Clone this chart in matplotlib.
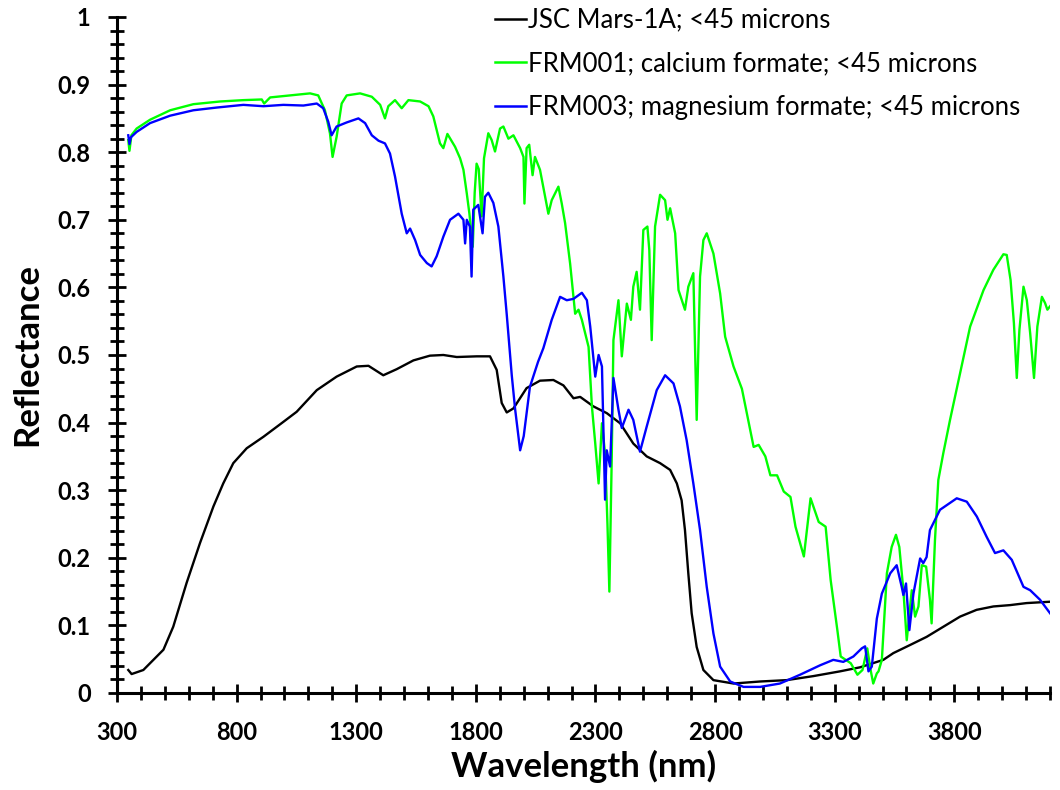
import matplotlib
matplotlib.use("Agg")
import matplotlib.pyplot as plt
from matplotlib.ticker import FixedLocator

plt.rcParams['font.family'] = ['Lato', 'DejaVu Sans']

# ---------------- data ----------------
jsc_wl = [347, 361, 410, 452, 494, 535, 591, 647, 703, 744, 786, 842, 912, 995, 1051,
          1135, 1218, 1302, 1351, 1413, 1469, 1539, 1608, 1664, 1720, 1804, 1859, 1887,
          1908, 1929, 1957, 2012, 2068, 2124, 2166, 2208, 2236, 2291, 2347, 2403, 2458,
          2514, 2570, 2612, 2640, 2660, 2674, 2688, 2702, 2723, 2751, 2793, 2877, 2988,
          3099, 3211, 3322, 3406, 3503, 3545, 3615, 3684, 3754, 3824, 3893, 3963, 4033,
          4102, 4200]
jsc_r = [0.034, 0.028, 0.034, 0.049, 0.064, 0.098, 0.163, 0.222, 0.276, 0.310, 0.340,
         0.362, 0.379, 0.401, 0.416, 0.448, 0.468, 0.483, 0.484, 0.470, 0.479, 0.492,
         0.499, 0.500, 0.497, 0.498, 0.498, 0.478, 0.429, 0.415, 0.421, 0.451, 0.462,
         0.463, 0.455, 0.436, 0.438, 0.424, 0.414, 0.399, 0.369, 0.350, 0.340, 0.330,
         0.310, 0.285, 0.241, 0.177, 0.118, 0.068, 0.034, 0.019, 0.014, 0.017, 0.019,
         0.025, 0.032, 0.038, 0.049, 0.059, 0.071, 0.083, 0.098, 0.113, 0.123, 0.128,
         0.130, 0.133, 0.135]

frm001_wl = [347, 352, 360, 382, 438, 522, 619, 731, 828, 905, 915, 940, 1023, 1107,
             1141, 1169, 1190, 1201, 1218, 1239, 1260, 1316, 1365, 1400, 1420, 1434,
             1462, 1490, 1518, 1567, 1602, 1622, 1650, 1664, 1681, 1713, 1734, 1748,
             1762, 1773, 1787, 1795, 1803, 1812, 1824, 1834, 1852, 1866, 1880, 1901,
             1915, 1936, 1957, 1985, 1999, 2003, 2012, 2023, 2037, 2047, 2068, 2103,
             2117, 2145, 2159, 2173, 2194, 2215, 2229, 2243, 2257, 2271, 2285, 2299,
             2313, 2327, 2340, 2350, 2358, 2368, 2375, 2396, 2410, 2431, 2448, 2458,
             2472, 2486, 2500, 2517, 2525, 2535, 2549, 2570, 2591, 2601, 2612, 2633,
             2647, 2674, 2688, 2709, 2723, 2737, 2751, 2765, 2793, 2821, 2842, 2877,
             2912, 2961, 2982, 3010, 3031, 3059, 3087, 3115, 3136, 3171, 3199, 3233,
             3262, 3283, 3311, 3325, 3367, 3395, 3416, 3436, 3450, 3461, 3476, 3483,
             3497, 3518, 3538, 3556, 3570, 3587, 3601, 3622, 3636, 3650, 3664, 3682,
             3698, 3705, 3719, 3733, 3754, 3782, 3824, 3866, 3922, 3963, 4005, 4019,
             4035, 4049, 4061, 4072, 4089, 4103, 4117, 4133, 4147, 4166, 4179, 4189,
             4200]
frm001_r = [0.818, 0.802, 0.825, 0.835, 0.848, 0.862, 0.871, 0.875, 0.877, 0.878, 0.872,
            0.881, 0.884, 0.887, 0.884, 0.862, 0.828, 0.793, 0.823, 0.872, 0.884, 0.887,
            0.882, 0.870, 0.850, 0.868, 0.877, 0.865, 0.877, 0.875, 0.868, 0.853, 0.813,
            0.806, 0.827, 0.808, 0.791, 0.774, 0.739, 0.709, 0.660, 0.740, 0.783, 0.775,
            0.705, 0.791, 0.828, 0.818, 0.801, 0.835, 0.838, 0.820, 0.825, 0.806, 0.793,
            0.724, 0.806, 0.811, 0.766, 0.793, 0.774, 0.709, 0.729, 0.749, 0.724, 0.695,
            0.635, 0.561, 0.567, 0.552, 0.532, 0.512, 0.424, 0.369, 0.310, 0.399, 0.354,
            0.250, 0.150, 0.350, 0.522, 0.581, 0.498, 0.576, 0.552, 0.601, 0.623, 0.567,
            0.685, 0.690, 0.655, 0.522, 0.690, 0.737, 0.729, 0.700, 0.717, 0.680, 0.596,
            0.567, 0.601, 0.621, 0.404, 0.616, 0.670, 0.680, 0.650, 0.591, 0.527, 0.483,
            0.450, 0.364, 0.367, 0.350, 0.322, 0.322, 0.298, 0.290, 0.246, 0.202, 0.288,
            0.253, 0.246, 0.167, 0.093, 0.054, 0.044, 0.027, 0.034, 0.066, 0.034, 0.014,
            0.029, 0.032, 0.049, 0.177, 0.216, 0.234, 0.216, 0.152, 0.078, 0.152, 0.113,
            0.128, 0.189, 0.187, 0.138, 0.103, 0.226, 0.315, 0.355, 0.404, 0.473, 0.542,
            0.596, 0.626, 0.649, 0.648, 0.611, 0.547, 0.466, 0.537, 0.601, 0.581, 0.532,
            0.466, 0.542, 0.586, 0.577, 0.567, 0.572]

frm003_wl = [347, 352, 358, 382, 438, 522, 619, 716, 828, 912, 995, 1079, 1135, 1162,
             1183, 1197, 1218, 1260, 1309, 1337, 1365, 1393, 1420, 1441, 1462, 1490,
             1511, 1525, 1546, 1567, 1595, 1615, 1636, 1664, 1692, 1727, 1748, 1755,
             1762, 1775, 1782, 1789, 1810, 1828, 1838, 1852, 1873, 1894, 1915, 1929,
             1950, 1964, 1985, 2000, 2026, 2060, 2082, 2117, 2152, 2180, 2208, 2243,
             2264, 2278, 2299, 2313, 2327, 2340, 2347, 2361, 2375, 2396, 2410, 2438,
             2458, 2486, 2514, 2556, 2591, 2626, 2653, 2681, 2709, 2737, 2765, 2793,
             2821, 2863, 2919, 2988, 3071, 3155, 3239, 3294, 3336, 3378, 3413, 3427,
             3441, 3455, 3476, 3497, 3532, 3559, 3580, 3587, 3598, 3612, 3629, 3657,
             3670, 3684, 3698, 3740, 3810, 3852, 3894, 3935, 3970, 4005, 4040, 4089,
             4117, 4158, 4200]
frm003_r = [0.825, 0.812, 0.822, 0.830, 0.843, 0.854, 0.862, 0.866, 0.870, 0.868, 0.870,
            0.869, 0.872, 0.865, 0.845, 0.825, 0.838, 0.844, 0.850, 0.843, 0.825, 0.817,
            0.813, 0.798, 0.764, 0.709, 0.680, 0.687, 0.670, 0.648, 0.636, 0.631, 0.646,
            0.675, 0.700, 0.709, 0.700, 0.665, 0.700, 0.690, 0.616, 0.715, 0.722, 0.680,
            0.734, 0.740, 0.725, 0.690, 0.616, 0.560, 0.470, 0.420, 0.359, 0.380, 0.453,
            0.490, 0.510, 0.552, 0.586, 0.581, 0.583, 0.592, 0.581, 0.542, 0.468, 0.500,
            0.483, 0.286, 0.359, 0.335, 0.466, 0.419, 0.392, 0.419, 0.404, 0.357, 0.394,
            0.448, 0.470, 0.458, 0.424, 0.374, 0.310, 0.241, 0.157, 0.088, 0.039, 0.017,
            0.009, 0.009, 0.014, 0.027, 0.041, 0.049, 0.046, 0.054, 0.066, 0.069, 0.032,
            0.039, 0.110, 0.147, 0.177, 0.189, 0.157, 0.145, 0.162, 0.093, 0.147, 0.199,
            0.192, 0.201, 0.241, 0.271, 0.288, 0.283, 0.261, 0.231, 0.207, 0.211, 0.197,
            0.157, 0.152, 0.138, 0.118]

labels = ["JSC Mars-1A; <45 microns",
          "FRM001; calcium formate; <45 microns",
          "FRM003; magnesium formate; <45 microns"]
colors = ["#000000", "#00FF00", "#0000FF"]

x_major = [300, 800, 1300, 1800, 2300, 2800, 3300, 3800]
x_minor = list(range(300, 4201, 100))
y_major = [0, 0.1, 0.2, 0.3, 0.4, 0.5, 0.6, 0.7, 0.8, 0.9, 1.0]
y_major_labels = ["0", "0.1", "0.2", "0.3", "0.4", "0.5", "0.6", "0.7", "0.8", "0.9", "1"]
y_minor = [i / 50 for i in range(0, 51)]

# ---------------- figure ----------------
fig = plt.figure(figsize=(10.6, 7.9), dpi=100)
ax = fig.add_axes([0.1104, 0.1228, 0.8802, 0.8557])

ax.plot(jsc_wl, jsc_r, color=colors[0], lw=1.7, label=labels[0])
ax.plot(frm001_wl, frm001_r, color=colors[1], lw=1.7, label=labels[1])
ax.plot(frm003_wl, frm003_r, color=colors[2], lw=1.7, label=labels[2])

ax.set_xlim(300, 4200)
ax.set_ylim(0, 1)
ax.xaxis.set_major_locator(FixedLocator(x_major))
ax.xaxis.set_minor_locator(FixedLocator(x_minor))
ax.set_yticks(y_major)
ax.set_yticklabels(y_major_labels)
ax.yaxis.set_minor_locator(FixedLocator(y_minor))

for s in ['top', 'right']:
    ax.spines[s].set_visible(False)
for s in ['left', 'bottom']:
    ax.spines[s].set_linewidth(2.2)

ax.tick_params(which='major', direction='inout', length=13, width=2.0,
               labelsize=17, color='black')
ax.tick_params(which='minor', direction='inout', length=9.5, width=2.0, color='black')
ax.tick_params(axis='y', which='major', pad=12.5)
ax.tick_params(axis='x', which='major', pad=14)
for lab in ax.get_xticklabels() + ax.get_yticklabels():
    lab.set_fontweight('bold')

ax.set_xlabel("Wavelength (nm)", fontsize=25, fontweight='bold', labelpad=4)
ax.set_ylabel("Reflectance", fontsize=25, fontweight='bold', labelpad=10)

leg = ax.legend(loc='upper left', bbox_to_anchor=(0.405, 1.014), frameon=False,
                fontsize=18.5, handlelength=1.2, handletextpad=0.1, labelspacing=0.73,
                borderaxespad=0, borderpad=0)
for line in leg.get_lines():
    line.set_linewidth(1.8)

fig.savefig("out.png", dpi=100)
